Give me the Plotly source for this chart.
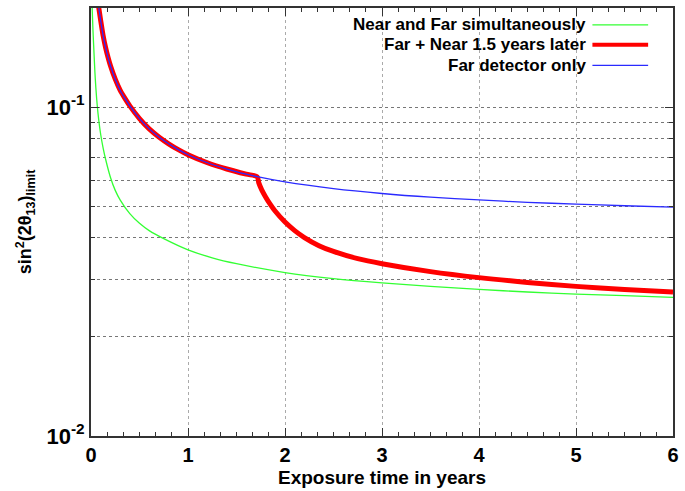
import plotly.graph_objects as go

# Data
t_green = [0.012, 0.02, 0.03, 0.04, 0.05, 0.065, 0.08, 0.1, 0.125, 0.15, 0.2, 0.25, 0.3, 0.4,
           0.5, 0.6, 0.75, 1.0, 1.25, 1.5, 2.0, 2.5, 3.0, 3.5, 4.0, 4.5, 5.0, 5.5, 6.0]
v_green = [0.2, 0.172, 0.148, 0.128, 0.1145, 0.1005, 0.0912, 0.0825, 0.075, 0.0695, 0.0612,
           0.0558, 0.0522, 0.0474, 0.0443, 0.0421, 0.0398, 0.0368, 0.0348, 0.0334, 0.0314,
           0.0301, 0.0292, 0.0285, 0.0279, 0.0274, 0.0270, 0.0267, 0.0264]

t_blue = [0.075, 0.1, 0.125, 0.15, 0.175, 0.2, 0.25, 0.3, 0.35, 0.4, 0.5, 0.6, 0.7, 0.8, 0.9,
          1.0, 1.2, 1.4, 1.6, 1.713, 2.0, 2.5, 3.0, 3.5, 4.0, 4.5, 5.0, 5.5, 6.0]
v_blue = [0.205, 0.183, 0.1648, 0.1518, 0.1418, 0.1337, 0.1215, 0.1125, 0.1062, 0.1008, 0.0922,
          0.0858, 0.0811, 0.0773, 0.0742, 0.0716, 0.0677, 0.0648, 0.0625, 0.0614, 0.0592,
          0.0565, 0.0546, 0.0532, 0.0522, 0.0513, 0.0507, 0.0501, 0.0496]

t_red = [0.075, 0.1, 0.125, 0.15, 0.175, 0.2, 0.25, 0.3, 0.35, 0.4, 0.5, 0.6, 0.7, 0.8, 0.9,
         1.0, 1.2, 1.4, 1.6, 1.713, 1.73, 1.76, 1.8, 1.85, 1.9, 2.0, 2.1, 2.2, 2.35, 2.5, 2.75,
         3.0, 3.5, 4.0, 4.5, 5.0, 5.5, 6.0]
v_red = [0.205, 0.183, 0.1648, 0.1518, 0.1418, 0.1337, 0.1215, 0.1125, 0.1062, 0.1008, 0.0922,
         0.0858, 0.0811, 0.0773, 0.0742, 0.0716, 0.0677, 0.0648, 0.0625, 0.0614, 0.0588,
         0.0560, 0.0533, 0.0505, 0.0482, 0.0447, 0.0421, 0.0401, 0.0379, 0.0364, 0.0346,
         0.0334, 0.0316, 0.0303, 0.0293, 0.0285, 0.0279, 0.0274]

names = ["Near and Far simultaneously", "Far + Near 1.5 years later", "Far detector only"]
colors = ["#33ff33", "#ff0000", "#2a2aff"]
widths = [1.3, 5, 1.3]

x_ticks = [0, 1, 2, 3, 4, 5, 6]
y_major = [0.01, 0.1]
y_major_text = ["<b>10<sup>-2</sup></b>", "<b>10<sup>-1</sup></b>"]
y_minor = [0.02, 0.03, 0.04, 0.05, 0.06, 0.07, 0.08, 0.09, 0.2]

fig = go.Figure()
series = [(t_green, v_green), (t_red, v_red), (t_blue, v_blue)]
for (tx, vy), n, c, w in zip(series, names, colors, widths):
    fig.add_trace(go.Scatter(x=tx, y=vy, mode="lines", name=n,
                             line=dict(color=c, width=w, shape="spline", smoothing=0.8),
                             showlegend=False))

font_family = "Liberation Sans, Arial, sans-serif"

fig.update_layout(
    width=685, height=491,
    margin=dict(l=91, r=9, t=6, b=53),
    plot_bgcolor="white", paper_bgcolor="white",
    font=dict(family=font_family, color="black"),
    xaxis=dict(
        range=[0, 6], tickvals=x_ticks, ticktext=[f"<b>{v}</b>" for v in x_ticks],
        tickfont=dict(size=20), ticks="inside", ticklen=8, tickwidth=1.2, tickcolor="#333",
        showline=True, linecolor="#333", linewidth=2, mirror="ticks",
        showgrid=True, gridcolor="#aaa", griddash="dot", gridwidth=1,
        zeroline=False,
        minor=dict(dtick=1/6, ticks="inside", ticklen=4, tickcolor="#333", showgrid=False),
        title=dict(text="<b>Exposure time in years</b>", font=dict(size=19), standoff=6),
    ),
    yaxis=dict(
        type="log", range=[-2, -0.699],
        tickvals=y_major, ticktext=y_major_text, tickfont=dict(size=22),
        ticks="inside", ticklen=8, tickwidth=1.2, tickcolor="#333",
        showline=True, linecolor="#333", linewidth=2, mirror="ticks",
        showgrid=True, gridcolor="#777", griddash="dot", gridwidth=1,
        zeroline=False,
        minor=dict(tickvals=y_minor, ticks="inside", ticklen=4, tickcolor="#333",
                   showgrid=True, gridcolor="#777", griddash="dot", gridwidth=1),
        title=dict(text="<b>sin<sup>2</sup>(2θ<sub>13</sub>)<sub>limit</sub></b>",
                   font=dict(size=18), standoff=10),
    ),
)

# Legend drawn as right-aligned text with line samples on the right
leg_y = [23, 43, 64]
H = 491
for n, c, w, yy in zip(names, colors, widths, leg_y):
    yp = (H - yy - 53) / (H - 59)
    fig.add_annotation(xref="paper", yref="paper", x=(591 - 91) / 585, y=yp,
                       text=f"<b>{n}</b>", showarrow=False, xanchor="right", yanchor="middle",
                       font=dict(size=17, family=font_family))
    fig.add_shape(type="line", xref="paper", yref="paper",
                  x0=(595 - 91) / 585, x1=(651 - 91) / 585, y0=yp, y1=yp,
                  line=dict(color=c, width=(4 if w > 2 else 1.3)))

fig.write_html("out.html")
